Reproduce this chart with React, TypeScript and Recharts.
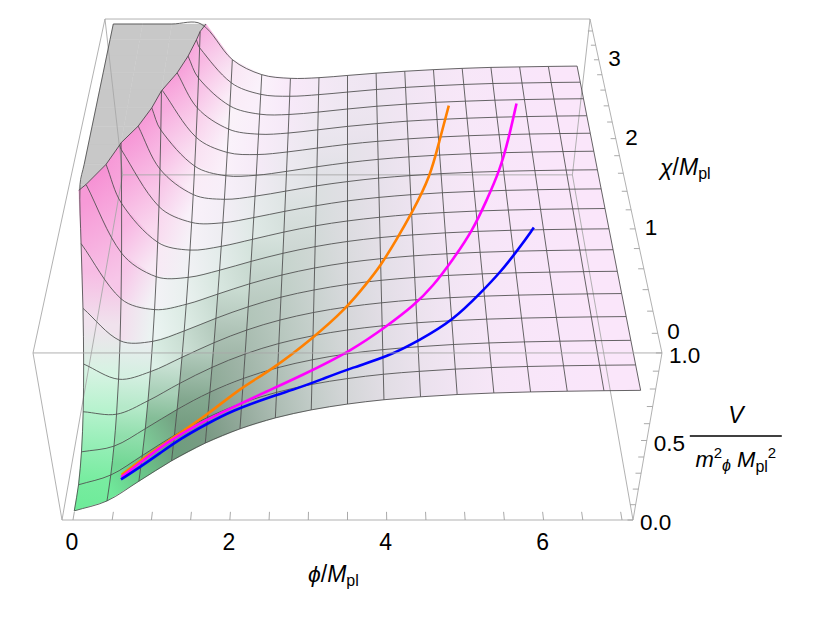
import React from 'react'
import { Area, ComposedChart, Line, Scatter, XAxis, YAxis } from 'recharts'

const WIDTH = 822
const HEIGHT = 617
const FONT = '"Liberation Sans", "DejaVu Sans", Arial, sans-serif'

// mesh of the surface: phi/M_pl and chi/M_pl values of the mesh lines
const phiGrid = [0, 0.4375, 0.875, 1.3125, 1.75, 2.1875, 2.625, 3.0625, 3.5, 3.9375, 4.375, 4.8125, 5.25, 5.6875, 6.125, 6.5625, 7]
const chiGrid = [-0.1, 0.125, 0.35, 0.575, 0.8, 1.025, 1.25, 1.475, 1.7, 1.925, 2.15, 2.375, 2.6, 2.825, 3.05, 3.275, 3.5]

// V/(m_phi^2 M_pl^2) on the mesh nodes: one list per phi value, running over chi
const surfaceV = [
  [0.005, 0.008, 0.061, 0.165, 0.32, 0.525, 0.781, 1.088, 1.445, 1.853, 2.311, 2.82, 3.38, 3.99, 4.651, 5.363, 6.125],
  [0.07, 0.072, 0.098, 0.149, 0.224, 0.325, 0.45, 0.6, 0.775, 0.975, 1.199, 1.448, 1.722, 2.021, 2.345, 2.693, 3.066],
  [0.197, 0.197, 0.21, 0.235, 0.272, 0.321, 0.383, 0.456, 0.542, 0.639, 0.749, 0.871, 1.005, 1.152, 1.31, 1.481, 1.663],
  [0.325, 0.325, 0.331, 0.344, 0.362, 0.386, 0.416, 0.452, 0.494, 0.542, 0.595, 0.655, 0.721, 0.792, 0.87, 0.953, 1.043],
  [0.434, 0.434, 0.437, 0.443, 0.452, 0.464, 0.479, 0.496, 0.517, 0.54, 0.566, 0.596, 0.628, 0.663, 0.701, 0.742, 0.785],
  [0.52, 0.52, 0.521, 0.524, 0.529, 0.534, 0.542, 0.55, 0.56, 0.572, 0.585, 0.599, 0.615, 0.632, 0.65, 0.67, 0.692],
  [0.585, 0.585, 0.585, 0.587, 0.589, 0.592, 0.595, 0.599, 0.604, 0.61, 0.616, 0.623, 0.631, 0.639, 0.648, 0.658, 0.669],
  [0.632, 0.632, 0.632, 0.633, 0.634, 0.635, 0.637, 0.639, 0.642, 0.644, 0.648, 0.651, 0.655, 0.659, 0.663, 0.668, 0.673],
  [0.666, 0.666, 0.667, 0.667, 0.667, 0.668, 0.669, 0.67, 0.671, 0.673, 0.674, 0.676, 0.678, 0.68, 0.682, 0.684, 0.687],
  [0.691, 0.691, 0.691, 0.691, 0.691, 0.692, 0.692, 0.693, 0.693, 0.694, 0.695, 0.696, 0.696, 0.697, 0.699, 0.7, 0.701],
  [0.708, 0.708, 0.708, 0.709, 0.709, 0.709, 0.709, 0.709, 0.71, 0.71, 0.71, 0.711, 0.711, 0.712, 0.712, 0.713, 0.713],
  [0.721, 0.721, 0.721, 0.721, 0.721, 0.721, 0.721, 0.721, 0.721, 0.722, 0.722, 0.722, 0.722, 0.722, 0.723, 0.723, 0.723],
  [0.73, 0.73, 0.73, 0.73, 0.73, 0.73, 0.73, 0.73, 0.73, 0.73, 0.73, 0.73, 0.73, 0.73, 0.73, 0.731, 0.731],
  [0.736, 0.736, 0.736, 0.736, 0.736, 0.736, 0.736, 0.736, 0.736, 0.736, 0.736, 0.736, 0.736, 0.736, 0.736, 0.737, 0.737],
  [0.74, 0.74, 0.74, 0.74, 0.74, 0.74, 0.74, 0.74, 0.74, 0.74, 0.74, 0.74, 0.74, 0.74, 0.74, 0.74, 0.74],
  [0.743, 0.743, 0.743, 0.743, 0.743, 0.743, 0.743, 0.743, 0.743, 0.743, 0.743, 0.743, 0.743, 0.743, 0.743, 0.743, 0.743],
  [0.745, 0.745, 0.745, 0.745, 0.745, 0.745, 0.745, 0.745, 0.745, 0.745, 0.745, 0.745, 0.745, 0.745, 0.745, 0.745, 0.745],
]

// field trajectories on the surface, listed from the end point back to the start
const orangePhi = [0.6, 0.85, 1.3, 1.74, 2.15, 2.53, 3.06, 3.49, 3.75, 3.93, 4.16, 4.38, 4.66, 4.83, 5.0]
const orangeChi = [0.07, 0.09, 0.11, 0.15, 0.27, 0.34, 0.55, 0.79, 1.01, 1.17, 1.44, 1.72, 2.12, 2.57, 3.0]
const orangeV = [0.113, 0.189, 0.322, 0.432, 0.514, 0.573, 0.633, 0.667, 0.683, 0.692, 0.702, 0.71, 0.718, 0.722, 0.726]

const magentaPhi = [0.6, 0.86, 1.21, 1.65, 2.08, 2.5, 2.91, 3.57, 4.0, 4.34, 4.6, 4.89, 5.18, 5.41, 5.64, 5.81, 6.0]
const magentaChi = [0.05, 0.07, 0.1, 0.11, 0.12, 0.16, 0.22, 0.38, 0.57, 0.74, 0.92, 1.19, 1.49, 1.82, 2.17, 2.53, 3.0]
const magentaV = [0.113, 0.191, 0.297, 0.411, 0.501, 0.568, 0.617, 0.671, 0.694, 0.708, 0.716, 0.723, 0.728, 0.732, 0.735, 0.737, 0.739]

const bluePhi = [0.6, 0.86, 1.14, 1.4, 1.75, 2.08, 2.51, 2.92, 3.16, 3.57, 3.99, 4.4, 4.83, 5.2, 5.48, 5.78, 6.0]
const blueChi = [0.03, 0.03, 0.04, 0.06, 0.07, 0.09, 0.1, 0.12, 0.15, 0.22, 0.28, 0.41, 0.58, 0.83, 1.03, 1.29, 1.5]
const blueV = [0.113, 0.191, 0.275, 0.348, 0.434, 0.501, 0.569, 0.618, 0.641, 0.671, 0.693, 0.709, 0.721, 0.729, 0.733, 0.737, 0.739]

// ticks
const phiTicks = [0, 2, 4, 6]
const phiMinorTicks = [0, 0.5, 1, 1.5, 2, 2.5, 3, 3.5, 4, 4.5, 5, 5.5, 6, 6.5, 7]
const chiTicks = [0, 1, 2, 3]
const chiMinorTicks = [0, 0.2, 0.4, 0.6, 0.8, 1, 1.2, 1.4, 1.6, 1.8, 2, 2.2, 2.4, 2.6, 2.8, 3, 3.2, 3.4]
const vTicks = [0, 0.5, 1]
const vTickLabels = ['0.0', '0.5', '1.0']
const vMinorTicks = [0, 0.1, 0.2, 0.3, 0.4, 0.5, 0.6, 0.7, 0.8, 0.9, 1]

// plot box (plot range plus padding)
const PHI_MIN = -0.14
const PHI_MAX = 7.14
const CHI_MIN = -0.172
const CHI_MAX = 3.572
const V_TOP = 1

type P3 = [number, number, number]
type Pt = { x: number; y: number | null }

// perspective view of the box, camera centred, looking from the front and above
function project([phi, chi, v]: P3): Pt {
  const u = (phi - PHI_MIN) / (PHI_MAX - PHI_MIN)
  const d = (chi - CHI_MIN) / (CHI_MAX - CHI_MIN)
  const w = 1 + 0.2695 * d - 0.0922 * v
  return { x: 347.5 + ((u - 0.5) * 571) / w, y: (520 - 298 * d - 199.6 * v) / w }
}

// smooth curve through the points (chord-length Hermite), used as a Recharts curve type
function smoothCurve(context: any) {
  let pts: number[][] = []
  const flush = () => {
    const n = pts.length
    if (!n) return
    context.moveTo(pts[0][0], pts[0][1])
    if (n === 1) return
    const d = pts.slice(1).map((p, k) => Math.hypot(p[0] - pts[k][0], p[1] - pts[k][1]) || 1e-6)
    const tan = pts.map((p, k) => {
      if (k === 0) return [(pts[1][0] - p[0]) / d[0], (pts[1][1] - p[1]) / d[0]]
      if (k === n - 1) return [(p[0] - pts[k - 1][0]) / d[k - 1], (p[1] - pts[k - 1][1]) / d[k - 1]]
      const s = d[k - 1] + d[k]
      return [(pts[k + 1][0] - pts[k - 1][0]) / s, (pts[k + 1][1] - pts[k - 1][1]) / s]
    })
    for (let k = 0; k < n - 1; k++) {
      const a = pts[k]
      const b = pts[k + 1]
      const h = d[k] / 3
      context.bezierCurveTo(
        a[0] + tan[k][0] * h,
        a[1] + tan[k][1] * h,
        b[0] - tan[k + 1][0] * h,
        b[1] - tan[k + 1][1] * h,
        b[0],
        b[1],
      )
    }
  }
  return {
    areaStart() {},
    areaEnd() {},
    lineStart() {
      pts = []
    },
    lineEnd() {
      flush()
    },
    point(x: number, y: number) {
      pts.push([+x, +y])
    },
  }
}

const gap = (pts: Pt[]): Pt => ({ x: pts.length ? pts[pts.length - 1].x : 0, y: null })

function segments(list: [P3, P3][]): Pt[] {
  const out: Pt[] = []
  list.forEach(([a, b]) => {
    out.push(project(a), project(b))
    out.push(gap(out))
  })
  return out
}

const crossAt = (a: P3, b: P3): P3 => {
  const t = (V_TOP - a[2]) / (b[2] - a[2])
  return [a[0] + t * (b[0] - a[0]), a[1] + t * (b[1] - a[1]), V_TOP]
}

function clipPoly(poly: P3[], below: boolean): P3[] {
  const inside = (p: P3) => (below ? p[2] <= V_TOP : p[2] > V_TOP)
  const out: P3[] = []
  poly.forEach((a, k) => {
    const b = poly[(k + 1) % poly.length]
    if (inside(a)) out.push(a)
    if (inside(a) !== inside(b)) out.push(crossAt(a, b))
  })
  return out
}

// colours imitating the default 3D lighting
const clamp01 = (t: number) => Math.max(0, Math.min(1, t))
const mix = (a: number[], b: number[], t: number) => a.map((v, k) => v + (b[k] - v) * t)
const rgb = (c: number[]) => `rgb(${c.map((v) => Math.round(v)).join(',')})`
const LAVENDER = [251, 229, 251]
const WHITE = [250, 248, 251]
const CYAN = [218, 250, 243]
const PINK = [246, 140, 210]
const MINT = [220, 244, 230]
const BRIGHT_GREEN = [100, 238, 148]
const CAP_GRAY = '#c8c8c8'

function greenFor(phi: number) {
  if (phi < 0.4) return BRIGHT_GREEN
  if (phi < 1.3) return mix(BRIGHT_GREEN, [108, 148, 120], (phi - 0.4) / 0.9)
  return mix([108, 148, 120], [140, 142, 142], clamp01((phi - 1.3) / 2.2))
}

function surfaceColor(s: number, t: number, phi: number, chi: number) {
  let c = LAVENDER
  c = mix(c, WHITE, clamp01((-s + 0.6 * t) / 0.5))
  c = mix(c, CYAN, clamp01((t - Math.max(0, -s) - 0.2) / 0.6) * 0.6)
  c = mix(c, PINK, clamp01((-s - 0.9) / 1.8))
  if (s > 0) {
    c = mix(c, MINT, clamp01(s / 0.3) * 0.8)
    c = mix(c, greenFor(phi), clamp01((s - 2.5 * t - 0.05) / 0.6))
  }
  c = mix(c, BRIGHT_GREEN, clamp01((1.0 - chi) / 0.7) * clamp01((1.1 - phi) / 0.7) * 0.75)
  return c
}

const nI = phiGrid.length
const nJ = chiGrid.length
const node = (i: number, j: number): P3 => [phiGrid[i], chiGrid[j], surfaceV[i][j]]
const capped = (p: P3): P3 => [p[0], p[1], Math.min(p[2], V_TOP)]

// shade of every cell from its slope
const cellColor: number[][][] = []
for (let i = 0; i < nI - 1; i++) {
  cellColor.push([])
  for (let j = 0; j < nJ - 1; j++) {
    const v00 = surfaceV[i][j]
    const v10 = surfaceV[i + 1][j]
    const v01 = surfaceV[i][j + 1]
    const v11 = surfaceV[i + 1][j + 1]
    const dVdphi = (v10 - v00 + v11 - v01) / 2 / (phiGrid[i + 1] - phiGrid[i])
    const dVdchi = (v01 - v00 + v11 - v10) / 2 / (chiGrid[j + 1] - chiGrid[j])
    const s = 0.4 * (PHI_MAX - PHI_MIN) * dVdphi
    const t = 0.4 * (CHI_MAX - CHI_MIN) * dVdchi
    cellColor[i].push(
      surfaceColor(s, t, (phiGrid[i] + phiGrid[i + 1]) / 2, (chiGrid[j] + chiGrid[j + 1]) / 2),
    )
  }
}
// smooth shading: colour at each node = mean of the cells around it
function nodeColor(i: number, j: number) {
  const acc = [0, 0, 0]
  let n = 0
  for (let a = i - 1; a <= i; a++)
    for (let b = j - 1; b <= j; b++)
      if (a >= 0 && b >= 0 && a < nI - 1 && b < nJ - 1) {
        cellColor[a][b].forEach((v, k) => (acc[k] += v))
        n++
      }
  return acc.map((v) => v / n)
}
const dist = (a: number[], b: number[]) => Math.hypot(a[0] - b[0], a[1] - b[1], a[2] - b[2])
const midPt = (a: P3, b: P3) => project(capped([(a[0] + b[0]) / 2, (a[1] + b[1]) / 2, (a[2] + b[2]) / 2]))

type Grad = { id: string; x1: number; y1: number; x2: number; y2: number; c1: string; c2: string }
type Poly = { key: string; fill: string; data: Pt[] }
const grads: Grad[] = []
const polys: Poly[] = []
const contourData: Pt[] = []

for (let j = nJ - 2; j >= 0; j--) {
  for (let i = 0; i < nI - 1; i++) {
    const q = [node(i, j), node(i + 1, j), node(i + 1, j + 1), node(i, j + 1)]
    const below = clipPoly(q, true)
    const above = clipPoly(q, false)
    if (above.length >= 3) {
      const ring = above.map((p) => project([p[0], p[1], V_TOP]))
      polys.push({ key: `cap-${i}-${j}`, fill: CAP_GRAY, data: [...ring, ring[0]] })
    }
    if (below.length >= 3) {
      const c00 = nodeColor(i, j)
      const c10 = nodeColor(i + 1, j)
      const c01 = nodeColor(i, j + 1)
      const c11 = nodeColor(i + 1, j + 1)
      const left = mix(c00, c01, 0.5)
      const right = mix(c10, c11, 0.5)
      const front = mix(c00, c10, 0.5)
      const back = mix(c01, c11, 0.5)
      const alongPhi = dist(left, right) >= dist(front, back)
      const p1 = alongPhi ? midPt(q[0], q[3]) : midPt(q[0], q[1])
      const p2 = alongPhi ? midPt(q[1], q[2]) : midPt(q[3], q[2])
      const id = `shade-${i}-${j}`
      grads.push({
        id,
        x1: p1.x,
        y1: p1.y as number,
        x2: p2.x,
        y2: p2.y as number,
        c1: rgb(alongPhi ? left : front),
        c2: rgb(alongPhi ? right : back),
      })
      const ring = below.map(project)
      polys.push({ key: `cell-${i}-${j}`, fill: `url(#${id})`, data: [...ring, ring[0]] })
    }
    const crossings: P3[] = []
    q.forEach((a, k) => {
      const b = q[(k + 1) % 4]
      if (a[2] <= V_TOP !== b[2] <= V_TOP) crossings.push(crossAt(a, b))
    })
    for (let k = 0; k + 1 < crossings.length; k += 2) {
      contourData.push(project(crossings[k]), project(crossings[k + 1]))
      contourData.push(gap(contourData))
    }
  }
}

// mesh lines, cut where the surface leaves the box; boundary lines follow the cap
const meshData: Pt[] = []
function addMeshLine(pts: P3[], boundary: boolean) {
  const runs: P3[][] = []
  if (boundary) {
    runs.push(pts.map(capped))
  } else {
    let cur: P3[] = []
    pts.forEach((p, k) => {
      const inP = p[2] <= V_TOP
      if (k > 0) {
        const prev = pts[k - 1]
        const inPrev = prev[2] <= V_TOP
        if (inP !== inPrev) {
          const c = crossAt(prev, p)
          if (inPrev) {
            cur.push(c)
            runs.push(cur)
            cur = []
          } else cur = [c]
        }
      }
      if (inP) cur.push(p)
    })
    if (cur.length > 1) runs.push(cur)
  }
  runs.forEach((run) => {
    run.forEach((p) => meshData.push(project(p)))
    meshData.push(gap(meshData))
  })
}
phiGrid.forEach((_, i) => addMeshLine(chiGrid.map((__, j) => node(i, j)), i === 0 || i === nI - 1))
chiGrid.forEach((_, j) => addMeshLine(phiGrid.map((__, i) => node(i, j)), j === 0 || j === nJ - 1))

const trajectory = (phi: number[], chi: number[], v: number[]) =>
  phi.map((p, k) => project([p, chi[k], v[k]]))
const orangeData = trajectory(orangePhi, orangeChi, orangeV)
const magentaData = trajectory(magentaPhi, magentaChi, magentaV)
const blueData = trajectory(bluePhi, blueChi, blueV)

// box edges
const backEdges = segments([
  [[PHI_MIN, CHI_MAX, 0], [PHI_MIN, CHI_MAX, V_TOP]],
  [[PHI_MAX, CHI_MAX, 0], [PHI_MAX, CHI_MAX, V_TOP]],
  [[PHI_MIN, CHI_MAX, 0], [PHI_MAX, CHI_MAX, 0]],
  [[PHI_MIN, CHI_MIN, 0], [PHI_MIN, CHI_MAX, 0]],
  [[PHI_MAX, CHI_MIN, 0], [PHI_MAX, CHI_MAX, 0]],
])
const frontEdges = segments([
  [[PHI_MIN, CHI_MIN, 0], [PHI_MAX, CHI_MIN, 0]],
  [[PHI_MIN, CHI_MIN, V_TOP], [PHI_MAX, CHI_MIN, V_TOP]],
  [[PHI_MIN, CHI_MIN, 0], [PHI_MIN, CHI_MIN, V_TOP]],
  [[PHI_MAX, CHI_MIN, 0], [PHI_MAX, CHI_MIN, V_TOP]],
  [[PHI_MIN, CHI_MIN, V_TOP], [PHI_MIN, CHI_MAX, V_TOP]],
  [[PHI_MAX, CHI_MIN, V_TOP], [PHI_MAX, CHI_MAX, V_TOP]],
  [[PHI_MIN, CHI_MAX, V_TOP], [PHI_MAX, CHI_MAX, V_TOP]],
])
const TICK = 0.07
const tickData = segments([
  ...phiMinorTicks.map((p) => [[p, CHI_MIN, 0], [p, CHI_MIN + TICK, 0]] as [P3, P3]),
  ...vMinorTicks.map((v) => [[PHI_MAX, CHI_MIN, v], [PHI_MAX - TICK, CHI_MIN, v]] as [P3, P3]),
  ...chiMinorTicks.map((c) => [[PHI_MAX, c, V_TOP], [PHI_MAX - TICK, c, V_TOP]] as [P3, P3]),
])

const tickLabels = [
  ...phiTicks.map((p) => ({ ...project([p, CHI_MIN, 0]), text: String(p), dx: -1, dy: 30, size: 23, anchor: 'middle' })),
  ...vTicks.map((v, k) => ({ ...project([PHI_MAX, CHI_MIN, v]), text: vTickLabels[k], dx: 7, dy: 10, size: 22.5, anchor: 'start' })),
  ...chiTicks.map((c) => ({ ...project([PHI_MAX, c, V_TOP]), text: String(c), dx: 9.5, dy: 6, size: 22.5, anchor: 'start' })),
]

const titles = [
  { ...project([3.5, CHI_MIN, 0]), kind: 'phi' },
  { ...project([PHI_MAX, 1.7, V_TOP]), kind: 'chi' },
  { ...project([PHI_MAX, CHI_MIN, 0.5]), kind: 'v' },
]

const renderTickLabel = (p: any) => {
  const d = p.payload
  return (
    <text x={p.cx + d.dx} y={p.cy + d.dy} textAnchor={d.anchor} fontSize={d.size} fontFamily={FONT} fill="#000">
      {d.text}
    </text>
  )
}

const renderTitle = (p: any) => {
  const { cx, cy, payload } = p
  if (payload.kind === 'phi') {
    return (
      <text x={cx - 39.5} y={cy + 62} fontSize={23} fontFamily={FONT} fill="#000">
        <tspan fontStyle="italic">ϕ</tspan>
        <tspan>/</tspan>
        <tspan fontStyle="italic">M</tspan>
        <tspan fontSize={16} dy={4}>pl</tspan>
      </text>
    )
  }
  if (payload.kind === 'chi') {
    return (
      <text x={cx + 38.7} y={cy + 10.6} fontSize={23} fontFamily={FONT} fill="#000">
        <tspan fontStyle="italic">χ</tspan>
        <tspan>/</tspan>
        <tspan fontStyle="italic">M</tspan>
        <tspan fontSize={16} dy={4}>pl</tspan>
      </text>
    )
  }
  const x = cx + 89
  const y = cy - 4.5
  return (
    <g>
      <text x={x} y={y - 13} textAnchor="middle" fontSize={23} fontStyle="italic" fontFamily={FONT} fill="#000">
        V
      </text>
      <line x1={x - 46} x2={x + 46} y1={y} y2={y} stroke="#000" strokeWidth={1.3} />
      <text x={x} y={y + 31} textAnchor="middle" fontSize={22} fontFamily={FONT} fill="#000">
        <tspan fontStyle="italic">m</tspan>
        <tspan fontSize={15} dy={-9}>2</tspan>
        <tspan fontSize={16} fontStyle="italic" dy={13}>ϕ</tspan>
        <tspan dy={-4}> </tspan>
        <tspan fontStyle="italic">M</tspan>
        <tspan fontSize={16} dy={5}>pl</tspan>
        <tspan fontSize={15} dy={-14}>2</tspan>
      </text>
    </g>
  )
}

const lineProps = { dataKey: 'y', dot: false, activeDot: false, isAnimationActive: false, connectNulls: false } as const

export default function App() {
  return (
    <div style={{ position: 'absolute', left: 0, top: 0, width: WIDTH, height: HEIGHT, background: '#fff' }}>
      <ComposedChart width={WIDTH} height={HEIGHT} margin={{ top: 0, right: 0, bottom: 0, left: 0 }}>
        <defs>
          {grads.map((g) => (
            <linearGradient key={g.id} id={g.id} gradientUnits="userSpaceOnUse" x1={g.x1} y1={g.y1} x2={g.x2} y2={g.y2}>
              <stop offset="0" stopColor={g.c1} />
              <stop offset="1" stopColor={g.c2} />
            </linearGradient>
          ))}
        </defs>
        <XAxis type="number" dataKey="x" domain={[0, WIDTH]} allowDataOverflow hide />
        <YAxis type="number" dataKey="y" domain={[0, HEIGHT]} allowDataOverflow reversed hide />
        <Line {...lineProps} data={backEdges} type="linear" stroke="#a8a8a8" strokeWidth={0.9} />
        {polys.map((p) => (
          <Area
            key={p.key}
            data={p.data}
            dataKey="y"
            type="linear"
            baseValue={0}
            stroke={p.fill}
            strokeWidth={0.4}
            fill={p.fill}
            fillOpacity={1}
            dot={false}
            activeDot={false}
            isAnimationActive={false}
          />
        ))}
        <Line {...lineProps} data={meshData} type={smoothCurve as any} stroke="#4a4a4a" strokeWidth={0.85} />
        <Line {...lineProps} data={contourData} type="linear" stroke="#4a4a4a" strokeWidth={0.9} />
        <Line {...lineProps} data={orangeData} type="basis" stroke="#ff8000" strokeWidth={2.6} />
        <Line {...lineProps} data={magentaData} type="basis" stroke="#ff00ff" strokeWidth={2.6} />
        <Line {...lineProps} data={blueData} type="basis" stroke="#0000ff" strokeWidth={2.6} />
        <Line {...lineProps} data={frontEdges} type="linear" stroke="#a8a8a8" strokeWidth={0.9} />
        <Line {...lineProps} data={tickData} type="linear" stroke="#a0a0a0" strokeWidth={0.9} />
        <Scatter data={tickLabels} dataKey="y" shape={renderTickLabel} isAnimationActive={false} />
        <Scatter data={titles} dataKey="y" shape={renderTitle} isAnimationActive={false} />
      </ComposedChart>
    </div>
  )
}
